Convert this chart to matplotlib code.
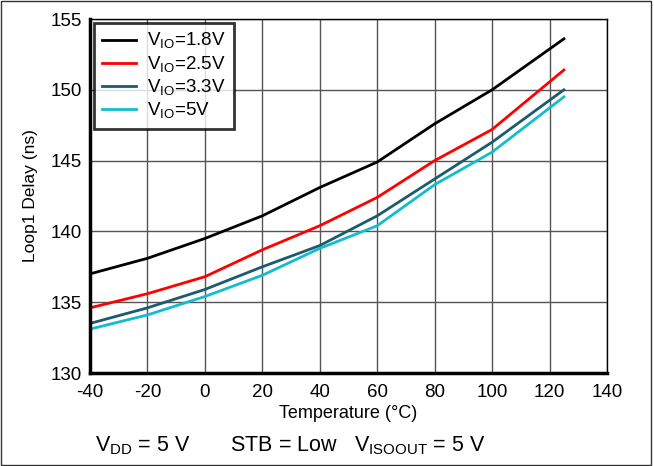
import matplotlib.pyplot as plt
from matplotlib.patches import Rectangle

plt.rcParams['font.family'] = ['Liberation Sans', 'DejaVu Sans']
plt.rcParams['axes.unicode_minus'] = False

temp = [-40, -20, 0, 20, 40, 60, 80, 100, 125]
vio_18 = [137.0, 138.1, 139.5, 141.1, 143.1, 144.9, 147.6, 150.0, 153.6]
vio_25 = [134.6, 135.6, 136.8, 138.7, 140.4, 142.4, 145.0, 147.2, 151.4]
vio_33 = [133.5, 134.6, 135.9, 137.5, 139.0, 141.1, 143.7, 146.3, 150.0]
vio_50 = [133.1, 134.1, 135.4, 136.9, 138.8, 140.4, 143.3, 145.6, 149.5]

fig = plt.figure(figsize=(6.54, 4.66), dpi=100)
ax = fig.add_axes([90/654, 1-373/466, 517/654, 354/466])

ax.plot(temp, vio_18, color='black', lw=2, label=r'V$_{\mathregular{IO}}$=1.8V')
ax.plot(temp, vio_25, color='#ff0000', lw=2, label=r'V$_{\mathregular{IO}}$=2.5V')
ax.plot(temp, vio_33, color='#1b5b6e', lw=2, label=r'V$_{\mathregular{IO}}$=3.3V')
ax.plot(temp, vio_50, color='#12bccd', lw=2, label=r'V$_{\mathregular{IO}}$=5V')

ax.set_xlim(-40, 140)
ax.set_ylim(130, 155)
ax.set_xticks(range(-40, 141, 20))
ax.set_yticks(range(130, 156, 5))
ax.grid(True, color='#555555', lw=1)
ax.tick_params(length=0, labelsize=13.5)
ax.tick_params(axis='x', pad=8)
ax.tick_params(axis='y', pad=6)
for s in ['left', 'bottom']:
    ax.spines[s].set_linewidth(2.5)
for s in ['top', 'right']:
    ax.spines[s].set_linewidth(1)

ax.set_xlabel('Temperature (°C)', fontsize=13, labelpad=3)
ax.set_ylabel('Loop1 Delay (ns)', fontsize=12.5, labelpad=9)

leg = ax.legend(loc='upper left', fontsize=13.5, frameon=True, fancybox=False,
                borderaxespad=0.2, handlelength=1.8, labelspacing=0.15,
                borderpad=0.45, handletextpad=0.6)
leg.get_frame().set_edgecolor('black')
leg.get_frame().set_linewidth(2)

fig.text(95/654, 1-446/466,
         r'V$_{\mathregular{DD}}$ = 5 V       STB = Low   V$_{\mathregular{ISOOUT}}$ = 5 V',
         fontsize=15.5, va='center', ha='left')

fig.patches.append(Rectangle((0.002, 0.002), 0.994, 0.996, transform=fig.transFigure,
                             fill=False, edgecolor='#333333', lw=1))

fig.savefig('out.png', dpi=100)
